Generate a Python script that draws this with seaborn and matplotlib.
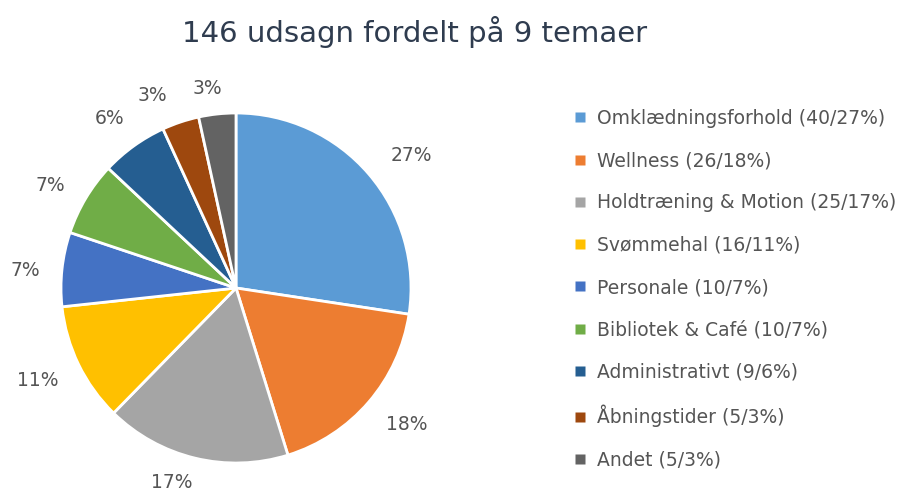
import matplotlib
matplotlib.use("Agg")
import matplotlib.pyplot as plt
import seaborn as sns
import numpy as np

title = "146 udsagn fordelt på 9 temaer"
categories = ["Omklædningsforhold", "Wellness", "Holdtræning & Motion", "Svømmehal",
              "Personale", "Bibliotek & Café", "Administrativt", "Åbningstider", "Andet"]
counts = [40, 26, 25, 16, 10, 10, 9, 5, 5]
pct_labels = [27, 18, 17, 11, 7, 7, 6, 3, 3]
colors_hex = ["#5B9BD5", "#ED7D31", "#A5A5A5", "#FFC000", "#4472C4",
              "#70AD47", "#255E91", "#9E480E", "#636363"]

# label placement style (radial distance, angular nudge in degrees)
label_dist = [1.255, 1.25, 1.17, 1.25, 1.21, 1.21, 1.21, 1.2, 1.15]
label_nudge = [-3.5, 2, -4.7, -1, 1.3, 2, 1, 5, 2]

sns.set_theme(style="white")
plt.rcParams['font.family'] = ['DejaVu Sans']
palette = sns.color_palette(colors_hex)

fig = plt.figure(figsize=(9.04, 4.94), dpi=100)
fig.patch.set_facecolor("white")

R = 175
cx, cy = 236, 288
ax = fig.add_axes([(cx - R) / 904, (494 - cy - R) / 494, 2 * R / 904, 2 * R / 494])

wedges, texts, autotexts = ax.pie(
    counts, colors=palette, startangle=90, counterclock=False,
    autopct='%1.0f%%', pctdistance=1.2,
    wedgeprops=dict(edgecolor="white", linewidth=2),
    textprops=dict(color="#555555", fontsize=13.5))
for w, t, d, nd in zip(wedges, autotexts, label_dist, label_nudge):
    ang = np.deg2rad((w.theta1 + w.theta2) / 2 + nd)
    t.set_position((d * np.cos(ang), d * np.sin(ang)))
ax.set_xlim(-1, 1)
ax.set_ylim(-1, 1)
ax.set_aspect("equal")
ax.axis("off")

fig.text(415 / 904, 1 - 32 / 494, title, ha="center", va="center",
         fontsize=21, color="#2F3C4F")

leg_labels = [f"{c} ({n}/{p}%)" for c, n, p in zip(categories, counts, pct_labels)]
handles = [plt.Line2D([], [], marker="s", linestyle="none", markersize=7,
                      markerfacecolor=col, markeredgecolor="none") for col in palette]
leg = fig.legend(handles, leg_labels, loc="upper left",
                 bbox_to_anchor=(573 / 904, 1 - 109 / 494), frameon=False,
                 fontsize=13.5, labelspacing=1.24, handlelength=0.8,
                 handletextpad=0.5, borderaxespad=0, borderpad=0)
for t in leg.get_texts():
    t.set_color("#555555")

fig.savefig("out.png", dpi=100, facecolor="white")
